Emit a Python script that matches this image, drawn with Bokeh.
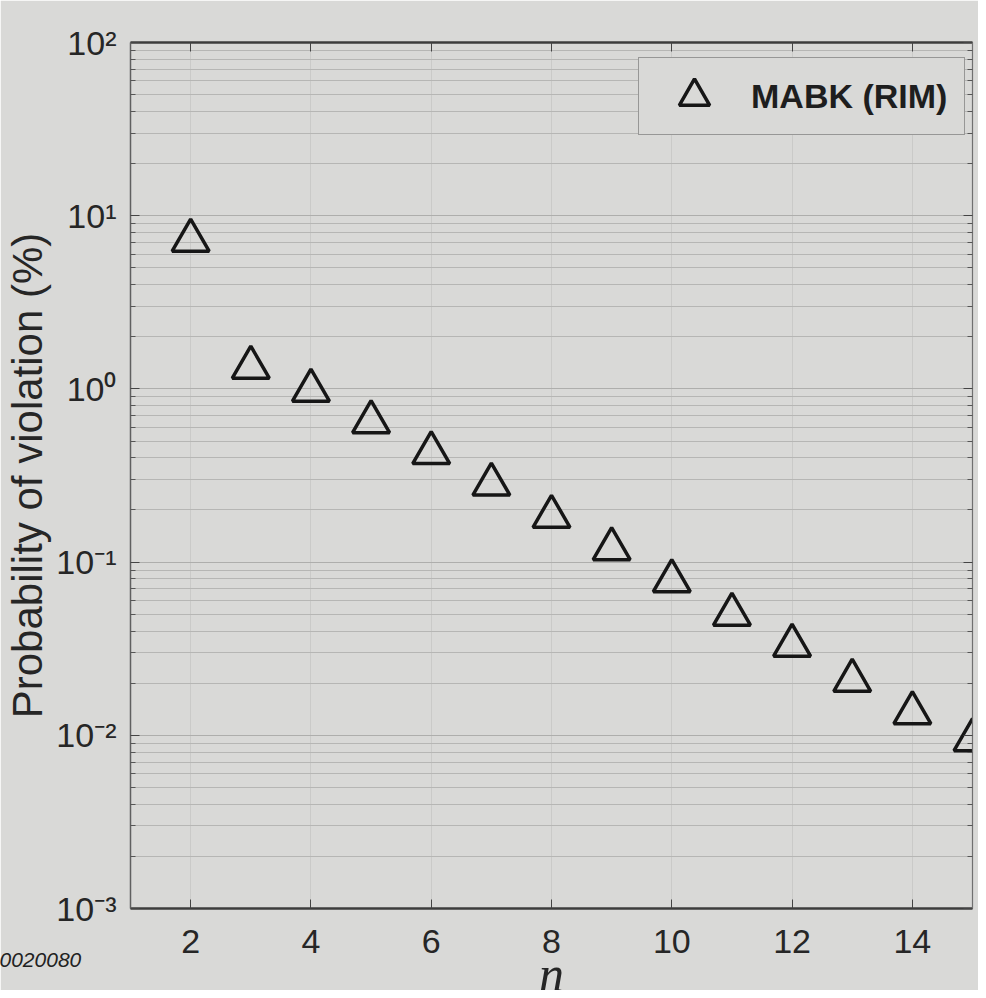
from bokeh.plotting import figure
from bokeh.models import (FixedTicker, LinearAxis, LogAxis, Legend, LegendItem, Title)
from bokeh.embed import file_html
from bokeh.resources import INLINE

# ---------------- data ----------------
n_values = [2, 3, 4, 5, 6, 7, 8, 9, 10, 11, 12, 13, 14, 15]
prob_violation = [7.19, 1.33, 0.979, 0.644, 0.427, 0.281, 0.183, 0.119,
                  0.0778, 0.0498, 0.0330, 0.0207, 0.01345, 0.0094]
series_label = "MABK (RIM)"
x_ticks = [2, 4, 6, 8, 10, 12, 14]
y_ticks = [1e-3, 1e-2, 1e-1, 1e0, 1e1, 1e2]
y_tick_labels = ["10\u207b\u00b3", "10\u207b\u00b2", "10\u207b\u00b9", "10\u2070", "10\u00b9", "10\u00b2"]
x_axis_label = "n"
y_axis_label = "Probability of violation (%)"
corner_note = "0020080"

# ---------------- style ----------------
BG = "#d9d9d7"
TXT = "#262626"
SANS = "Liberation Sans"

y_minor = [k * 10.0 ** e for e in range(-3, 2) for k in range(2, 10)]
y_ticker = FixedTicker(ticks=y_ticks, minor_ticks=y_minor)
x_ticker = FixedTicker(ticks=x_ticks, minor_ticks=[])

p = figure(width=978, height=990, y_axis_type="log",
           x_range=(1, 15), y_range=(1e-3, 1e2),
           output_backend="svg", toolbar_location=None,
           min_border_left=130, min_border_right=6,
           min_border_top=42, min_border_bottom=82,
           background_fill_color=BG, border_fill_color=BG,
           outline_line_color=None)

# left / bottom axes
for ax in (p.xaxis[0], p.yaxis[0]):
    ax.major_tick_in = 9
    ax.major_tick_out = 0
    ax.minor_tick_in = 5
    ax.minor_tick_out = 0
    ax.major_tick_line_color = "#444444"
    ax.minor_tick_line_color = "#555555"
    ax.major_label_text_font = SANS
    ax.major_label_text_font_size = "34px"
    ax.major_label_text_color = TXT
    ax.axis_label_text_color = TXT

p.xaxis.ticker = x_ticker
p.xaxis.axis_line_color = "#3c3c3c"
p.xaxis.axis_line_width = 2.5
p.xaxis.major_label_standoff = 21

p.yaxis.ticker = y_ticker
p.yaxis.axis_line_color = "#606060"
p.yaxis.axis_line_width = 1.5
p.yaxis.major_label_standoff = 14
p.yaxis.major_label_overrides = dict(zip(y_ticks, y_tick_labels))
p.yaxis.axis_label = y_axis_label
p.yaxis.axis_label_text_font = SANS
p.yaxis.axis_label_text_font_style = "normal"
p.yaxis.axis_label_text_font_size = "42px"
p.yaxis.axis_label_standoff = 2

# box: top and right axes with hidden labels
top_axis = LinearAxis(ticker=x_ticker, major_tick_in=9, major_tick_out=0,
                      minor_tick_in=0, minor_tick_out=0,
                      major_label_text_font_size="2px", major_label_text_alpha=0,
                      major_label_standoff=0,
                      axis_line_color="#3c3c3c", axis_line_width=2.5,
                      major_tick_line_color="#444444")
right_axis = LogAxis(ticker=y_ticker, major_tick_in=9, major_tick_out=0,
                     minor_tick_in=5, minor_tick_out=0,
                     major_label_text_font_size="2px", major_label_text_alpha=0,
                     major_label_standoff=0,
                     axis_line_color="#707070", axis_line_width=1.2,
                     major_tick_line_color="#444444", minor_tick_line_color="#555555")
p.add_layout(top_axis, "above")
p.add_layout(right_axis, "right")

# grids
p.ygrid.grid_line_color = "#aeaeac"
p.ygrid.minor_grid_line_color = "#b6b6b4"
p.ygrid.grid_line_width = 1
p.xgrid.grid_line_color = "#cacac8"
p.xgrid.grid_line_width = 1

# data
r = p.scatter(n_values, prob_violation, marker="triangle", size=37,
              fill_color=None, line_color="#161616", line_width=3.5)

legend = Legend(items=[LegendItem(label=series_label, renderers=[r])],
                location=(508, 773), padding=0, margin=0,
                glyph_width=110, glyph_height=76, label_standoff=2,
                label_width=213, label_height=40,
                label_text_font=SANS, label_text_font_style="bold",
                label_text_font_size="34px", label_text_color="#1e1e1e",
                border_line_color="#555555", border_line_width=1.5,
                background_fill_color=BG, background_fill_alpha=1.0)
p.add_layout(legend)

# small note at the lower left corner, then the x-axis title
note = Title(text=corner_note, align="left", vertical_align="top",
             offset=-131, standoff=-6,
             text_font=SANS, text_font_style="italic", text_font_size="21px",
             text_color="#222222")
p.add_layout(note, "below")

x_title = Title(text=x_axis_label, align="center", vertical_align="bottom",
                standoff=-44, text_font="Liberation Serif",
                text_font_style="italic", text_font_size="50px",
                text_color=TXT)
p.add_layout(x_title, "below")

open("out.html", "w").write(file_html(p, INLINE))
